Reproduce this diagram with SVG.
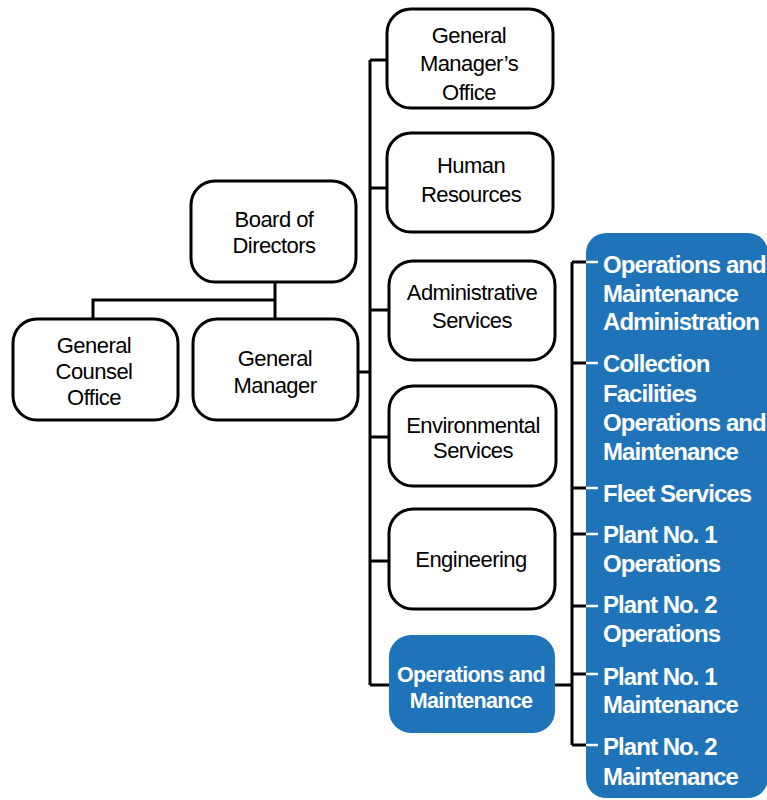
<svg xmlns="http://www.w3.org/2000/svg" width="767" height="800" viewBox="0 0 767 800">
<style>
.box{fill:#fff;stroke:#000;stroke-width:3}
.blue{fill:#1F73B8}
.t{font-family:"Liberation Sans",Arial,sans-serif;font-size:22px;letter-spacing:-0.55px;fill:#000;text-anchor:middle}
.tb{font-family:"Liberation Sans",Arial,sans-serif;font-size:21.5px;font-weight:bold;letter-spacing:-0.7px;fill:#fff;text-anchor:middle}
.tw{font-family:"Liberation Sans",Arial,sans-serif;font-size:24px;font-weight:bold;letter-spacing:-0.95px;fill:#fff}
.ln{stroke:#000;stroke-width:3;fill:none}
.wl{stroke:#fff;stroke-width:2.5;fill:none}
</style>
<rect class="blue" x="586" y="233" width="182" height="565" rx="20"/>
<g id="connectors">
<path class="ln" d="M275 282V318M93 318V300H275"/>
<path class="ln" d="M358 372H370M370 60V685M370 60H387M370 188H387M370 310H389M370 437H389M370 561H400M370 685H390"/>
<path class="ln" d="M555 685H572M572 262V745M572 262H587M572 363H587M572 488H587M572 534H587M572 606H587M572 674H587M572 745H587"/>
<path class="wl" d="M586 262H598M586 363H598M586 488H598M586 534H598M586 606H598M586 674H598M586 745H598"/>
</g>
<g id="board"><rect class="box" x="191" y="181" width="165" height="101" rx="24"/><text class="t" x="274" y="227">Board of</text><text class="t" x="274" y="253">Directors</text></g>
<g id="counsel"><rect class="box" x="13" y="319" width="165" height="101" rx="24"/><text class="t" x="94" y="353">General</text><text class="t" x="94" y="379">Counsel</text><text class="t" x="94" y="405">Office</text></g>
<g id="gm"><rect class="box" x="193" y="319" width="165" height="101" rx="24"/><text class="t" x="275" y="366">General</text><text class="t" x="275" y="393">Manager</text></g>
<g id="gmo"><rect class="box" x="387" y="9" width="166" height="99" rx="24"/><text class="t" x="469" y="43">General</text><text class="t" x="469" y="71">Manager’s</text><text class="t" x="469" y="100">Office</text></g>
<g id="hr"><rect class="box" x="387" y="133" width="166" height="99" rx="24"/><text class="t" x="471" y="173">Human</text><text class="t" x="471" y="202">Resources</text></g>
<g id="admin"><rect class="box" x="389" y="261" width="166" height="99" rx="24"/><text class="t" x="472" y="300">Administrative</text><text class="t" x="472" y="328">Services</text></g>
<g id="env"><rect class="box" x="389" y="386" width="167" height="100" rx="24"/><text class="t" x="473" y="433">Environmental</text><text class="t" x="473" y="458">Services</text></g>
<g id="eng"><rect class="box" x="389" y="509" width="166" height="100" rx="24"/><text class="t" x="471" y="567">Engineering</text></g>
<g id="om"><rect class="blue" x="389" y="635" width="166" height="98" rx="22"/><text class="tb" x="471" y="682">Operations and</text><text class="tb" x="471" y="708">Maintenance</text></g>
<g id="om-units">
<text class="tw" x="603" y="273">Operations and</text>
<text class="tw" x="603" y="302">Maintenance</text>
<text class="tw" x="603" y="330">Administration</text>
<text class="tw" x="603" y="372">Collection</text>
<text class="tw" x="603" y="402">Facilities</text>
<text class="tw" x="603" y="431">Operations and</text>
<text class="tw" x="603" y="460">Maintenance</text>
<text class="tw" x="603" y="502">Fleet Services</text>
<text class="tw" x="603" y="543">Plant No. 1</text>
<text class="tw" x="603" y="572">Operations</text>
<text class="tw" x="603" y="613">Plant No. 2</text>
<text class="tw" x="603" y="642">Operations</text>
<text class="tw" x="603" y="685">Plant No. 1</text>
<text class="tw" x="603" y="713">Maintenance</text>
<text class="tw" x="603" y="755">Plant No. 2</text>
<text class="tw" x="603" y="785">Maintenance</text>
</g>
</svg>
